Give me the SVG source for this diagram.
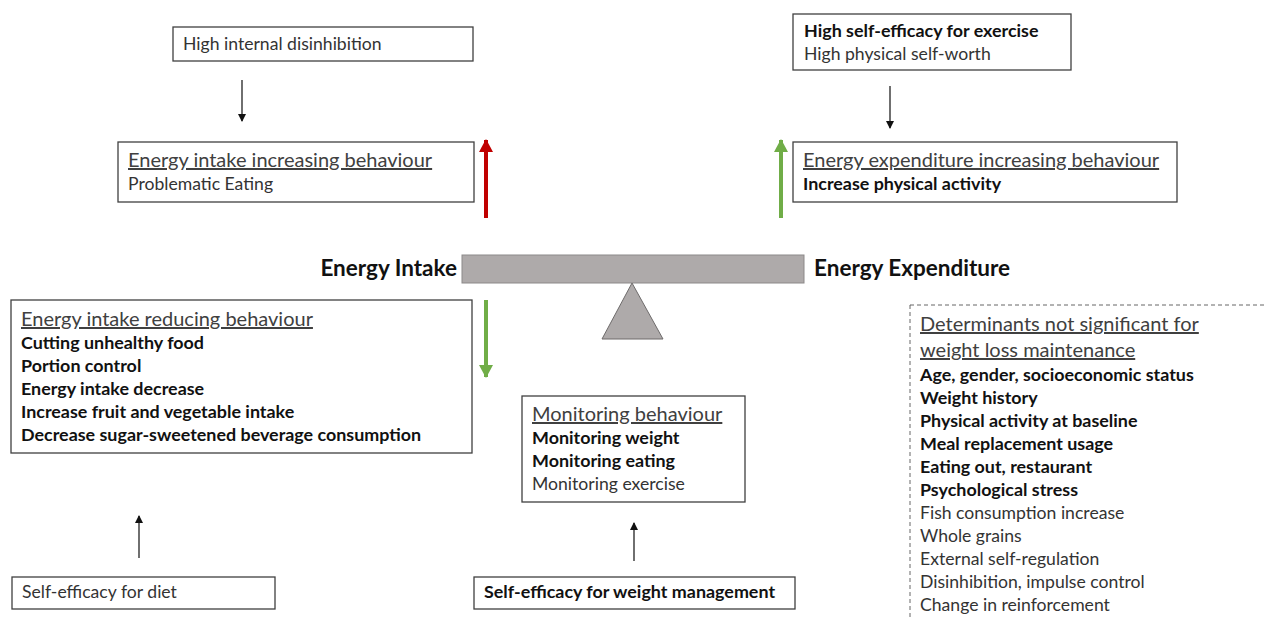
<svg xmlns="http://www.w3.org/2000/svg" width="1264" height="619" viewBox="0 0 1264 619">
<style>
text{font-family:Lato,"Open Sans","Liberation Sans",sans-serif;font-size:17.6px;fill:#333}
.b{font-weight:bold;fill:#111;font-size:17.9px}
.h{font-size:20px;text-decoration:underline;fill:#404040}
.big{font-size:22.5px;font-weight:bold;fill:#111}
.box{fill:#fff;stroke:#404040;stroke-width:1.3}
.k{stroke:#222;stroke-width:1.3;fill:none}
</style>
<defs>
<marker id="ah" markerWidth="8" markerHeight="8" refX="7" refY="4" orient="auto" markerUnits="userSpaceOnUse"><path d="M0,0 L8,4 L0,8 z" fill="#111"/></marker>
<marker id="ar" markerWidth="14" markerHeight="14" refX="12" refY="7" orient="auto" markerUnits="userSpaceOnUse"><path d="M0,0 L13,7 L0,14 z" fill="#c00000"/></marker>
<marker id="ag" markerWidth="14" markerHeight="14" refX="12" refY="7" orient="auto" markerUnits="userSpaceOnUse"><path d="M0,0 L13,7 L0,14 z" fill="#70ad47"/></marker>
</defs>

<g id="connectors">
<line class="k" x1="242" y1="80" x2="242" y2="121" marker-end="url(#ah)"/>
<line class="k" x1="890" y1="86" x2="890" y2="128" marker-end="url(#ah)"/>
<line class="k" x1="139" y1="558" x2="139" y2="516" marker-end="url(#ah)"/>
<line class="k" x1="634" y1="561" x2="634" y2="523" marker-end="url(#ah)"/>
<line x1="486" y1="218" x2="486" y2="140" stroke="#c00000" stroke-width="4" marker-end="url(#ar)"/>
<line x1="781" y1="218" x2="781" y2="140" stroke="#70ad47" stroke-width="4" marker-end="url(#ag)"/>
<line x1="486" y1="300" x2="486" y2="377" stroke="#70ad47" stroke-width="4" marker-end="url(#ag)"/>
</g>

<g id="balance">
<rect x="462" y="255" width="342" height="28" fill="#aeaaaa" stroke="#8c8989" stroke-width="1"/>
<polygon points="632,283 602,339 663,339" fill="#aeaaaa" stroke="#6e6b6b" stroke-width="1"/>
<text class="big" x="457" y="276" text-anchor="end">Energy Intake</text>
<text class="big" x="814" y="276">Energy Expenditure</text>
</g>

<g id="n-disinhibition">
<rect class="box" x="173" y="27" width="300" height="34"/>
<text x="183" y="50">High internal disinhibition</text>
</g>

<g id="n-intake-increasing">
<rect class="box" x="118" y="142" width="356" height="60"/>
<text class="h" x="128" y="167">Energy intake increasing behaviour</text>
<text x="128" y="190">Problematic Eating</text>
</g>

<g id="n-selfefficacy-exercise">
<rect class="box" x="793" y="14" width="278" height="56"/>
<text class="b" x="804" y="37">High self-efficacy for exercise</text>
<text x="804" y="60">High physical self-worth</text>
</g>

<g id="n-expenditure-increasing">
<rect class="box" x="793" y="142" width="384" height="60"/>
<text class="h" x="803" y="167">Energy expenditure increasing behaviour</text>
<text class="b" x="803" y="190">Increase physical activity</text>
</g>

<g id="n-intake-reducing">
<rect class="box" x="11" y="300" width="461" height="153"/>
<text class="h" x="21" y="326">Energy intake reducing behaviour</text>
<text class="b" x="21" y="349">Cutting unhealthy food</text>
<text class="b" x="21" y="372">Portion control</text>
<text class="b" x="21" y="395">Energy intake decrease</text>
<text class="b" x="21" y="418">Increase fruit and vegetable intake</text>
<text class="b" x="21" y="441">Decrease sugar-sweetened beverage consumption</text>
</g>

<g id="n-monitoring">
<rect class="box" x="522" y="396" width="223" height="106"/>
<text class="h" x="532" y="421">Monitoring behaviour</text>
<text class="b" x="532" y="444">Monitoring weight</text>
<text class="b" x="532" y="467">Monitoring eating</text>
<text x="532" y="490">Monitoring exercise</text>
</g>

<g id="n-selfefficacy-diet">
<rect class="box" x="12" y="577" width="263" height="32"/>
<text x="22" y="598">Self-efficacy for diet</text>
</g>

<g id="n-selfefficacy-weight">
<rect class="box" x="474" y="577" width="321" height="32"/>
<text class="b" x="484" y="598">Self-efficacy for weight management</text>
</g>

<g id="n-not-significant">
<rect x="910" y="305" width="400" height="400" fill="none" stroke="#666" stroke-width="1" stroke-dasharray="4,3"/>
<text class="h" x="920" y="331">Determinants not significant for</text>
<text class="h" x="920" y="357">weight loss maintenance</text>
<text class="b" x="920" y="381">Age, gender, socioeconomic status</text>
<text class="b" x="920" y="404">Weight history</text>
<text class="b" x="920" y="427">Physical activity at baseline</text>
<text class="b" x="920" y="450">Meal replacement usage</text>
<text class="b" x="920" y="473">Eating out, restaurant</text>
<text class="b" x="920" y="496">Psychological stress</text>
<text x="920" y="519">Fish consumption increase</text>
<text x="920" y="542">Whole grains</text>
<text x="920" y="565">External self-regulation</text>
<text x="920" y="588">Disinhibition, impulse control</text>
<text x="920" y="611">Change in reinforcement</text>
</g>
</svg>
